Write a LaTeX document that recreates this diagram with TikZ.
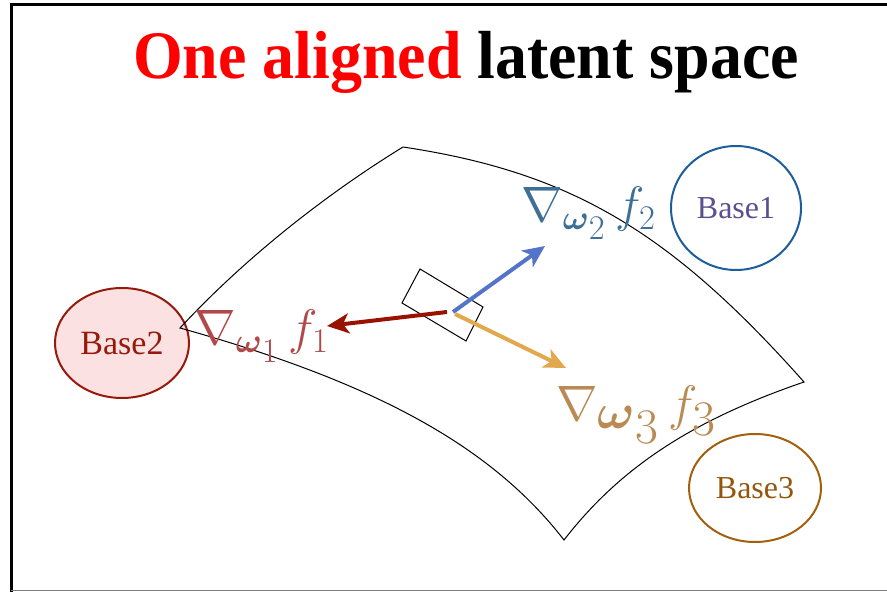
\documentclass[tikz,border=0pt]{standalone}
\usepackage{amsmath,amssymb}
\usepackage{graphicx}
\usepackage{fontspec}
\setmainfont{Liberation Serif}
\usepackage{tikz}
\usetikzlibrary{arrows.meta,shapes.geometric,calc}
\definecolor{clTitle}{HTML}{FF0000}
\definecolor{clBaseOneLine}{HTML}{1B5E9B}
\definecolor{clBaseOneText}{HTML}{5B4E91}
\definecolor{clBaseTwoLine}{HTML}{961A0C}
\definecolor{clBaseTwoFill}{HTML}{FBE1E1}
\definecolor{clBaseThreeLine}{HTML}{A2600E}
\definecolor{clBaseThreeText}{HTML}{93560C}
\definecolor{clGradOne}{HTML}{991200}
\definecolor{clGradTwo}{HTML}{5573C8}
\definecolor{clGradThree}{HTML}{E2A84E}
\definecolor{clLabelOne}{HTML}{B04A4A}
\definecolor{clLabelTwo}{HTML}{3D6F97}
\definecolor{clLabelThree}{HTML}{BA8A55}
\newcommand{\gradof}[1]{$\nabla_{\boldsymbol{\omega}_{\scriptstyle #1}}\mkern3mu f_{#1}$}
\tikzset{
  basenode/.style={ellipse, draw, line width=1pt, inner sep=0pt},
  grad/.style={-{Stealth[length=11pt, width=10pt, inset=3pt]}, line width=2pt},
  gradlabel/.style={anchor=base west, inner sep=0pt},
}

\begin{document}
\begin{tikzpicture}[x=0.5pt, y=-0.5pt]
  \useasboundingbox (0,0) rectangle (887,592);
  % frame
  \draw[line width=1.5pt] (11,592) -- (11,5) -- (887,5);
  \draw[gray, line width=0.5pt] (11,590) -- (887,590);
  % title
  \node[anchor=base, inner sep=0pt, font=\bfseries\fontsize{34}{40}\selectfont] (title) at (466,79)
    {\scalebox{0.94}[1]{\textcolor{clTitle}{One aligned} latent space}};
  % bases
  \node[basenode, draw=clBaseOneLine, text=clBaseOneText, minimum width=65pt, minimum height=62pt,
        font=\fontsize{16}{18}\selectfont] (base1) at (736,208) {Base1};
  \node[basenode, draw=clBaseTwoLine, fill=clBaseTwoFill, text=clBaseTwoLine, minimum width=67pt,
        minimum height=55pt, font=\fontsize{17}{19}\selectfont] (base2) at (122,343) {Base2};
  \node[basenode, draw=clBaseThreeLine, text=clBaseThreeText, minimum width=66pt, minimum height=54pt,
        font=\fontsize{16}{18}\selectfont] (base3) at (755,488) {Base3};
  % surface
  \coordinate (sTop) at (403,147);
  \coordinate (sLeft) at (180,328);
  \coordinate (sBottom) at (564,540);
  \coordinate (sRight) at (804,382);
  \draw[line width=0.5pt] (sTop) .. controls (569,172) and (669,230) .. (sRight)
    .. controls (690,421) and (619,469) .. (sBottom)
    .. controls (492,447) and (377,383) .. (sLeft)
    .. controls (245,258) and (325,195) .. (sTop);
  % patch
  \draw[line width=0.5pt] (420,269) -- (483,307) -- (466,341) -- (402,303) -- cycle;
  % gradients
  \coordinate (o) at (453,312);
  \coordinate (tipOne) at (327,326);
  \coordinate (tipTwo) at (545,246);
  \coordinate (tipThree) at (566,368);
  \draw[grad, clGradOne] ($(o)+(-6,0)$) -- (tipOne);
  \draw[grad, clGradTwo] (o) -- (tipTwo);
  \draw[grad, clGradThree] ($(o)+(2,2)$) -- (tipThree);
  \node[gradlabel, text=clLabelOne, font=\fontsize{24}{28}\selectfont] (lab1) at (194,345) {\gradof{1}};
  \node[gradlabel, text=clLabelTwo, font=\fontsize{26}{30}\selectfont] (lab2) at (521,222) {\gradof{2}};
  \node[gradlabel, text=clLabelThree, font=\fontsize{33}{37}\selectfont] (lab3) at (556,421) {\gradof{3}};
\end{tikzpicture}
\end{document}
